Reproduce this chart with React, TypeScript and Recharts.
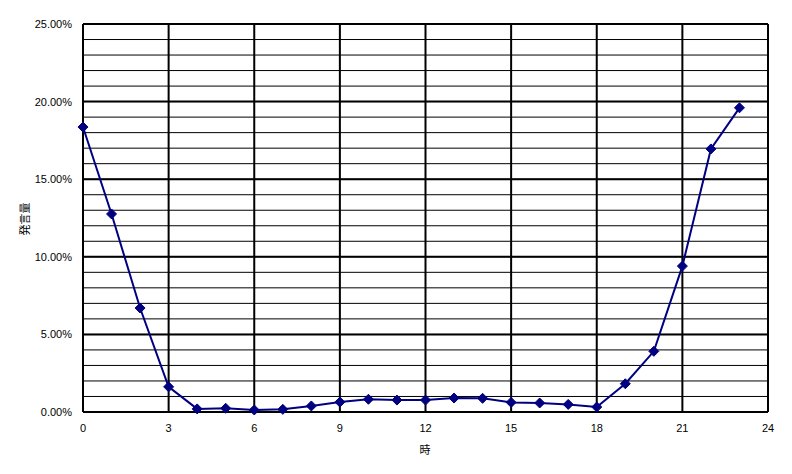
import React from 'react'
import { LineChart, Line, XAxis, YAxis, CartesianGrid, ReferenceLine } from 'recharts'

const hours = [0, 1, 2, 3, 4, 5, 6, 7, 8, 9, 10, 11, 12, 13, 14, 15, 16, 17, 18, 19, 20, 21, 22, 23]
const share = [18.36, 12.76, 6.7, 1.62, 0.2, 0.24, 0.13, 0.17, 0.39, 0.64, 0.82, 0.77, 0.77, 0.9, 0.88, 0.62, 0.58, 0.49, 0.32, 1.82, 3.91, 9.4, 16.95, 19.6]
const xTicks = [0, 3, 6, 9, 12, 15, 18, 21, 24]
const yTicks = Array.from({ length: 26 }, (_, i) => i)
const majorY = [0, 5, 10, 15, 20, 25]

const data = hours.map((h, i) => ({ h, v: share[i] }))

const font = { fontFamily: '"Liberation Sans", Arial, sans-serif', fontSize: 11, fill: '#000' }

const Diamond = (p: any) => {
  const { cx, cy } = p
  if (cx == null || cy == null) return <g />
  const r = 5
  return <polygon points={`${cx},${cy - r} ${cx + r},${cy} ${cx},${cy + r} ${cx - r},${cy}`} fill="#000080" stroke="#000080" />
}

export default function App() {
  return (
    <div style={{ position: 'absolute', left: 0, top: 0, width: 792, height: 474, background: '#fff' }}>
      <LineChart width={792} height={474} data={data} margin={{ top: 24, right: 24, bottom: 32, left: 8 }}>
        <CartesianGrid vertical={false} stroke="#000" strokeWidth={1} />
        <XAxis dataKey="h" type="number" domain={[0, 24]} ticks={xTicks} interval={0}
          tickSize={0} tickMargin={12} axisLine={false} tick={font} height={30} />
        <YAxis type="number" domain={[0, 25]} ticks={yTicks} interval={0} width={75}
          tickSize={0} tickMargin={11} axisLine={false} tick={font}
          tickFormatter={(v: number) => (v % 5 === 0 ? v.toFixed(2) + '%' : '')} />
        {majorY.map(y => <ReferenceLine key={'y' + y} y={y} stroke="#000" strokeWidth={2} />)}
        {xTicks.map(x => <ReferenceLine key={'x' + x} x={x} stroke="#000" strokeWidth={2} />)}
        <Line dataKey="v" stroke="#000080" strokeWidth={2} dot={<Diamond />} activeDot={false} isAnimationActive={false} />
      </LineChart>
      <div style={{ position: 'absolute', left: 24, top: 219, transform: 'translate(-50%, -50%) rotate(-90deg)', fontFamily: '"Noto Sans CJK JP", sans-serif', fontSize: 11, whiteSpace: 'nowrap', lineHeight: 1 }}>発言量</div>
      <div style={{ position: 'absolute', left: 425, top: 449, transform: 'translate(-50%, -50%)', fontFamily: '"Noto Sans CJK JP", sans-serif', fontSize: 11, lineHeight: 1 }}>時</div>
    </div>
  )
}
